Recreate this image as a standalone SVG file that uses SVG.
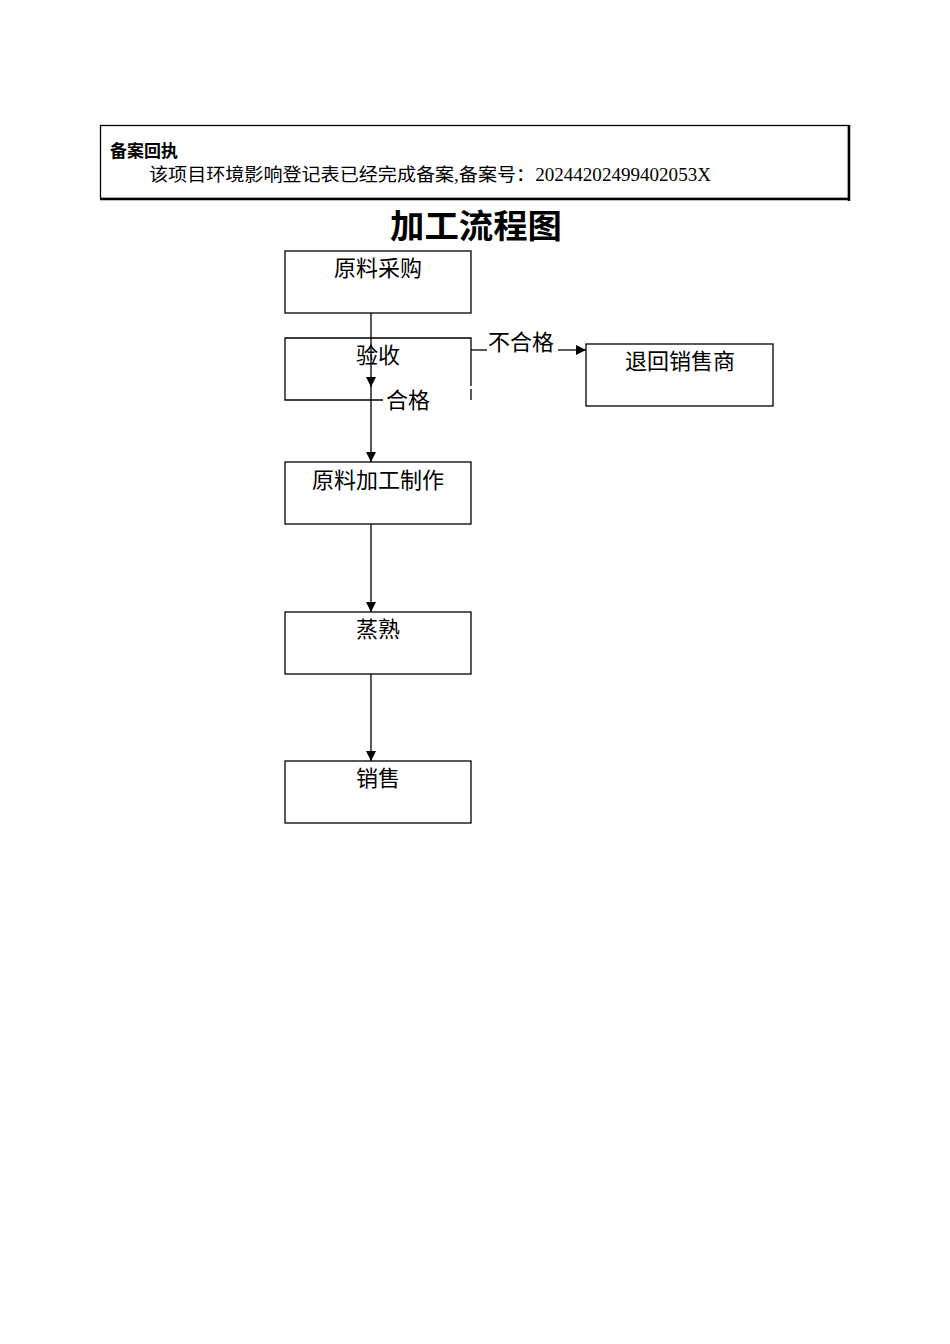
<svg xmlns="http://www.w3.org/2000/svg" width="950" height="1344" viewBox="0 0 950 1344">
<defs>
<marker id="arr" viewBox="0 0 10 10" refX="10" refY="5" markerWidth="10" markerHeight="10" markerUnits="userSpaceOnUse" orient="auto">
<path d="M0,0 L10,5 L0,10 z" fill="#000"/>
</marker>
</defs>
<style>
.box{fill:#fff;stroke:#000;stroke-width:1.3}
.ln{fill:none;stroke:#000;stroke-width:1.3}
.t{font-family:"Liberation Serif","Noto Sans CJK SC",serif;font-size:22px;fill:#000;text-anchor:middle}
.lb{font-family:"Liberation Serif","Noto Sans CJK SC",serif;font-size:22px;fill:#000}
</style>
<rect width="950" height="1344" fill="#fff"/>
<g id="header">
<rect x="100.5" y="125.5" width="748" height="73" fill="#fff" stroke="#000" stroke-width="1.3"/>
<line x1="849" y1="125" x2="849" y2="201" stroke="#000" stroke-width="2.5"/>
<line x1="100" y1="199" x2="850" y2="199" stroke="#000" stroke-width="2.5"/>
<text x="110" y="157" font-family="'Noto Sans CJK SC',sans-serif" font-size="17" font-weight="bold">备案回执</text>
<text x="149" y="181" font-family="'Liberation Serif','Noto Sans CJK SC',serif" font-size="18" textLength="562" lengthAdjust="spacingAndGlyphs">该项目环境影响登记表已经完成备案,备案号：20244202499402053X</text>
</g>
<g id="title">
<text x="476" y="238" font-family="'Noto Sans CJK SC',sans-serif" font-size="33" font-weight="bold" text-anchor="middle" textLength="172" lengthAdjust="spacingAndGlyphs">加工流程图</text>
</g>
<g id="n1">
<rect class="box" x="285" y="251" width="186" height="62"/>
<text class="t" x="378" y="276">原料采购</text>
</g>
<g id="n2">
<path class="ln" d="M383,400 H285 V338 H471 V386 M471,389 V400"/>
<text class="t" x="378" y="363">验收</text>
</g>
<g id="n3">
<rect class="box" x="586" y="344" width="187" height="62"/>
<text class="t" x="680" y="369">退回销售商</text>
</g>
<g id="n4">
<rect class="box" x="285" y="462" width="186" height="62"/>
<text class="t" x="378" y="488">原料加工制作</text>
</g>
<g id="n5">
<rect class="box" x="285" y="612" width="186" height="62"/>
<text class="t" x="378" y="637">蒸熟</text>
</g>
<g id="n6">
<rect class="box" x="285" y="761" width="186" height="62"/>
<text class="t" x="378" y="786">销售</text>
</g>
<g id="connectors">
<line class="ln" x1="371" y1="313" x2="371" y2="387" marker-end="url(#arr)"/>
<line class="ln" x1="371" y1="385" x2="371" y2="462" marker-end="url(#arr)"/>
<line class="ln" x1="471" y1="350" x2="487" y2="350"/>
<line class="ln" x1="558" y1="350" x2="586" y2="350" marker-end="url(#arr)"/>
<line class="ln" x1="371" y1="524" x2="371" y2="612" marker-end="url(#arr)"/>
<line class="ln" x1="371" y1="674" x2="371" y2="761" marker-end="url(#arr)"/>
<text class="lb" x="488" y="350">不合格</text>
<text class="lb" x="386" y="408">合格</text>
</g>
</svg>
